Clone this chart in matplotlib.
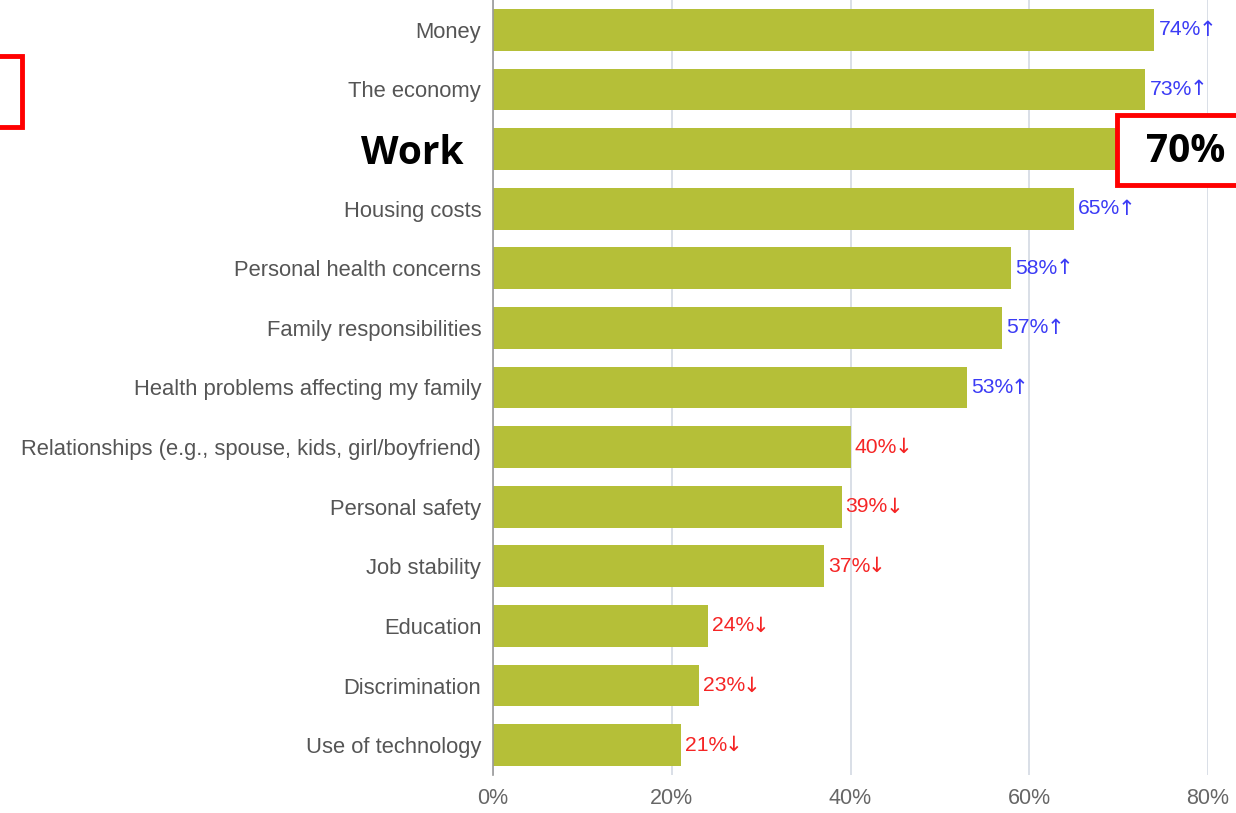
import matplotlib
matplotlib.use("Agg")
import matplotlib.pyplot as plt
from matplotlib.patches import Rectangle

categories = ["Money", "The economy", "Work", "Housing costs", "Personal health concerns",
              "Family responsibilities", "Health problems affecting my family",
              "Relationships (e.g., spouse, kids, girl/boyfriend)", "Personal safety",
              "Job stability", "Education", "Discrimination", "Use of technology"]
values = [74, 73, 70, 65, 58, 57, 53, 40, 39, 37, 24, 23, 21]
trend = ["up", "up", None, "up", "up", "up", "up", "down", "down", "down", "down", "down", "down"]
xticks = [0, 20, 40, 60, 80]
xticklabels = ["0%", "20%", "40%", "60%", "80%"]

W, H = 1236, 813
fig = plt.figure(figsize=(W / 100, H / 100), dpi=100)
ax = fig.add_axes([493 / W, 1 - 775 / H, (1208 - 493) / W, 775 / H])

n = len(categories)
ys = list(range(n))
ax.barh(ys, values, height=0.7, color="#b5bf38", zorder=3)
ax.set_ylim(n - 0.5, -0.5)
ax.set_xlim(0, 80)
ax.set_xticks(xticks)
ax.set_xticklabels(xticklabels, fontsize=15.5, color="#666666", family=["Liberation Sans", "DejaVu Sans"])
ax.set_yticks(ys)
ax.set_yticklabels(categories, fontsize=15.8, color="#555555", family=["Liberation Sans", "DejaVu Sans"])
ax.tick_params(axis="both", length=0)
ax.tick_params(axis="y", pad=8.5)
ax.tick_params(axis="x", pad=9)
ax.grid(axis="x", color="#d3d9e3", linewidth=1.2, zorder=0)
for s in ["top", "right", "bottom"]:
    ax.spines[s].set_visible(False)
ax.spines["left"].set_color("#999999")
ax.spines["left"].set_linewidth(1.2)
ax.spines["left"].set_zorder(4)

for lbl, c in zip(ax.get_yticklabels(), categories):
    if c == "Work":
        lbl.set_fontsize(28)
        lbl.set_fontweight("bold")
        lbl.set_color("black")
        lbl.set_family(["Open Sans", "DejaVu Sans"])
        lbl.set_x(-0.025)

for y, v, t in zip(ys, values, trend):
    if t is None:
        continue
    arrow = "\u2191" if t == "up" else "\u2193"
    col = "#3b3bf5" if t == "up" else "#f52525"
    txt = ax.text(v + 0.45, y, f"{v}%", va="center", ha="left", fontsize=15.2,
                  color=col, family=["Liberation Sans", "DejaVu Sans"], clip_on=False, zorder=5)
    ax.annotate(arrow, xy=(1.0, 0.5), xycoords=txt, va="center", ha="left", fontsize=15.2,
                color=col, family=["DejaVu Sans"], annotation_clip=False, zorder=5,
                xytext=(-1.5, 0), textcoords="offset points")

# highlighted 70% box
wi = categories.index("Work")
box = Rectangle((1117 / W, 1 - 185 / H), (1250 - 1117) / W, 70 / H, transform=fig.transFigure,
                facecolor="white", edgecolor="#ff0000", linewidth=3.5, zorder=10, clip_on=False)
fig.patches.append(box)
fig.text(1186 / W, 1 - 152 / H, f"{values[wi]}%", ha="center", va="center", fontsize=28,
         fontweight="bold", color="black", family=["Open Sans", "DejaVu Sans"], zorder=11)

# partial red box at top-left
box2 = Rectangle((-30 / W, 1 - 127 / H), (22 + 30) / W, 71 / H, transform=fig.transFigure,
                 facecolor="none", edgecolor="#ff0000", linewidth=3.5, zorder=10, clip_on=False)
fig.patches.append(box2)

fig.savefig("out.png", dpi=100)
